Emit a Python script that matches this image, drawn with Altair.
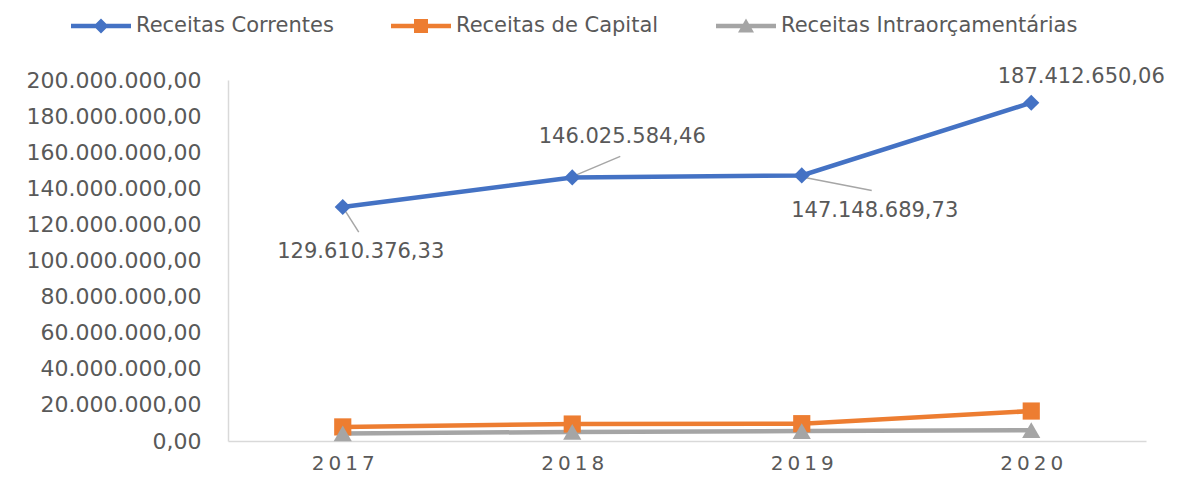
import altair as alt
import pandas as pd

anos = ["2017", "2018", "2019", "2020"]
series = ["Receitas Correntes", "Receitas de Capital", "Receitas Intraorçamentárias"]
correntes = [129610376.33, 146025584.46, 147148689.73, 187412650.06]
capital = [7800000, 9400000, 9600000, 16600000]
intra = [4200000, 5000000, 5500000, 6000000]
y_ticks = [0, 20e6, 40e6, 60e6, 80e6, 100e6, 120e6, 140e6, 160e6, 180e6, 200e6]

colors = ["#4472C4", "#ED7D31", "#A5A5A5"]
FONT = "DejaVu Sans"
TXT = "#595959"

rows = []
for s, vals in zip(series, [correntes, capital, intra]):
    for a, v in zip(anos, vals):
        rows.append({"ano": a, "serie": s, "valor": v})
df = pd.DataFrame(rows)

x_enc = alt.X("ano:O", scale=alt.Scale(type="point", padding=0.5),
              axis=alt.Axis(title=None, labelAngle=0, ticks=False, domainColor="#D9D9D9",
                            domainWidth=1.5, labelPadding=12, labelFont=FONT, labelFontSize=20,
                            labelColor=TXT,
                            labelExpr="join(split(datum.label, ''), '\u2009')"))
y_enc = alt.Y("valor:Q", scale=alt.Scale(domain=[0, 200e6], nice=False),
              axis=alt.Axis(title=None, values=y_ticks, format=",.2f", ticks=False, grid=False,
                            domainColor="#D9D9D9", domainWidth=1.5, labelPadding=27,
                            labelFont=FONT, labelFontSize=22, labelColor=TXT))
color_scale = alt.Scale(domain=series, range=colors)

base = alt.Chart(df).encode(x=x_enc, y=y_enc,
                            color=alt.Color("serie:N", scale=color_scale, legend=None))

lines = base.mark_line(strokeWidth=4.5)
points = base.mark_point(filled=True, opacity=1).encode(
    shape=alt.Shape("serie:N", scale=alt.Scale(domain=series, range=["diamond", "square", "triangle-up"]), legend=None),
    size=alt.Size("serie:N", scale=alt.Scale(domain=series, range=[260, 330, 300]), legend=None),
)

line_path = "M-3,-0.22H3V0.22H-3Z"
leg_paths = [
    line_path + "M0,-0.75L0.75,0L0,0.75L-0.75,0Z",
    line_path + "M-0.7,-0.7H0.7V0.7H-0.7Z",
    line_path + "M0,-0.75L0.8,0.65L-0.8,0.65Z",
]
leg = alt.Legend(orient="none", legendX=-138, legendY=-65, direction="horizontal", title=None,
                 labelFont=FONT, labelFontSize=21, labelColor=TXT, symbolSize=400,
                 symbolOpacity=1, labelOffset=24, columnPadding=54, padding=0, columns=3,
                 labelLimit=500, gridAlign="none")
legend_layer = alt.Chart(df).mark_point(filled=True, opacity=0).encode(
    x=x_enc, y=y_enc,
    color=alt.Color("serie:N", scale=alt.Scale(domain=series, range=colors), legend=leg),
    shape=alt.Shape("serie:N", scale=alt.Scale(domain=series, range=leg_paths), legend=leg),
)

label_offsets = {"2017": (18, 45), "2018": (50, -40), "2019": (73, 36), "2020": (50, -26)}
leader_offsets = {"2017": (2, 3, 16, 25), "2018": (3, -2, 48, -21), "2019": (3, 2, 70, 15)}

cor = alt.Chart(df).transform_filter(alt.datum.serie == series[0])
texts = []
for a in anos:
    dx, dy = label_offsets[a]
    texts.append(cor.transform_filter(alt.datum.ano == a).mark_text(
        dx=dx, dy=dy, font=FONT, fontSize=21, color=TXT, align="center", baseline="middle"
    ).encode(x=x_enc, y=y_enc, text=alt.Text("valor:Q", format=",.2f")))
rules = []
for a, (xo, yo, x2o, y2o) in leader_offsets.items():
    rules.append(cor.transform_filter(alt.datum.ano == a).mark_rule(
        color="#A6A6A6", strokeWidth=1.5, xOffset=xo, yOffset=yo, x2Offset=x2o, y2Offset=y2o
    ).encode(x=x_enc, y=y_enc, x2=alt.X2("ano"), y2=alt.Y2("valor")))

chart = alt.layer(legend_layer, *rules, lines, points, *texts).resolve_scale(
    shape="independent", color="independent", size="independent"
).properties(
    width=918, height=361,
    autosize=alt.AutoSizeParams(type="none"),
    padding={"left": 228, "top": 80, "right": 31, "bottom": 36},
    background="white",
).configure(
    locale={"number": {"decimal": ",", "thousands": ".", "grouping": [3], "currency": ["R$", ""]}}
).configure_view(strokeWidth=0, stroke="transparent")

chart.save("out.html", embed_options={"renderer": "svg", "actions": False})
